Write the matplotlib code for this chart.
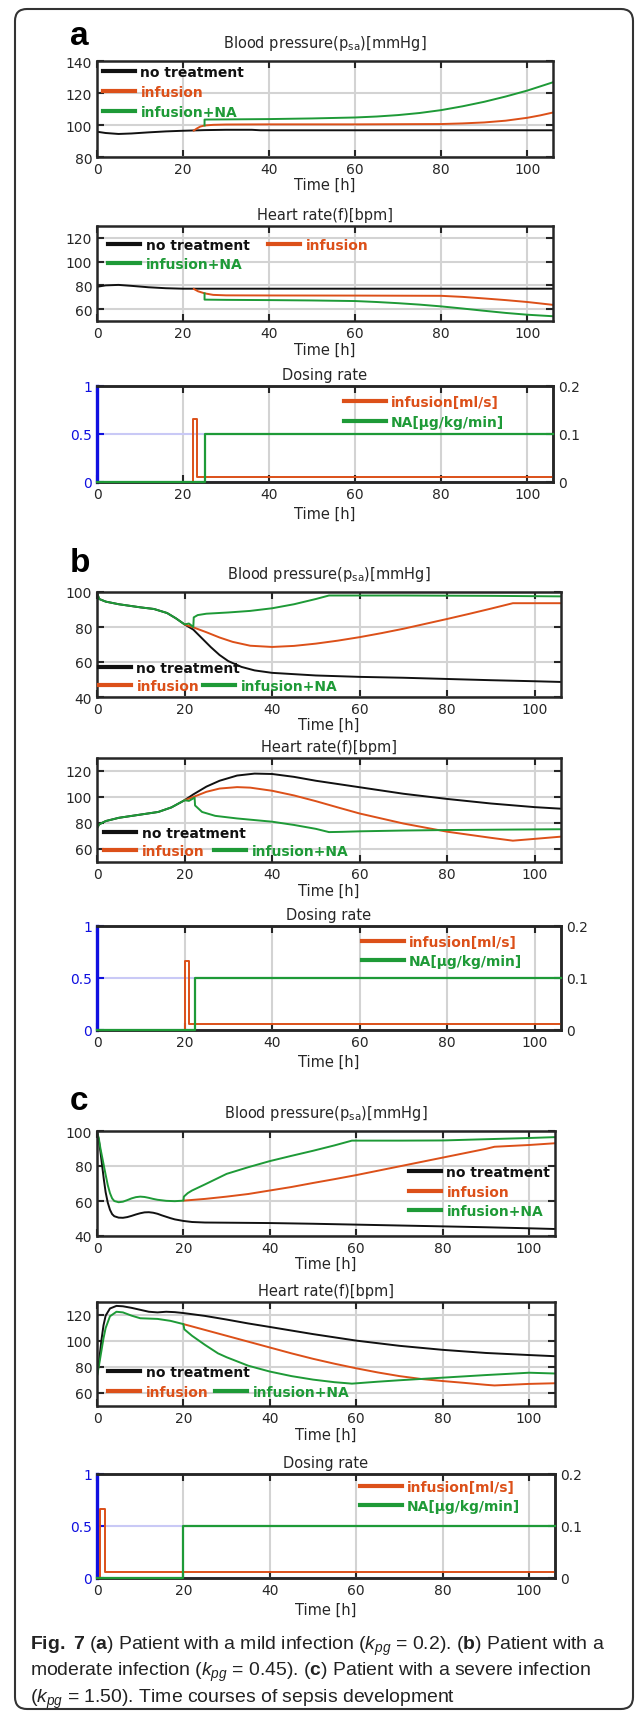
import matplotlib
matplotlib.use("Agg")
from matplotlib import pyplot as plt
from matplotlib import font_manager
from matplotlib.legend import Legend
from matplotlib.patches import FancyBboxPatch
from matplotlib.transforms import IdentityTransform

# ---------------- data ----------------
# panel a : blood pressure
a_bp_black_t = [0, 2, 5, 8, 12, 16, 20, 25, 30, 36, 38, 60, 106]
a_bp_black = [95.8, 95.0, 94.4, 94.7, 95.4, 96.0, 96.4, 96.8, 97.0, 97.0, 96.7, 96.7, 96.7]
a_bp_inf_t = [22.5, 23.2, 24, 25, 27, 30, 40, 60, 80, 85, 90, 95, 100, 103, 106]
a_bp_inf = [96.5, 97.8, 99.0, 99.7, 100.1, 100.3, 100.4, 100.4, 100.6, 101.0, 101.6, 102.7, 104.5, 106.0, 107.8]
a_bp_na_t = [25, 25, 30, 40, 50, 60, 65, 70, 75, 80, 85, 90, 95, 100, 106]
a_bp_na = [99.7, 103.4, 103.5, 103.7, 104.1, 104.7, 105.3, 106.2, 107.5, 109.3, 111.7, 114.5, 117.8, 121.5, 126.7]
# panel a : heart rate
a_hr_black_t = [0, 2, 5, 8, 12, 16, 20, 106]
a_hr_black = [78.8, 80.0, 80.4, 79.6, 78.4, 77.6, 77.2, 77.2]
a_hr_inf_t = [22.5, 23.5, 25, 27, 30, 40, 60, 80, 85, 90, 95, 100, 106]
a_hr_inf = [77.0, 75.0, 73.3, 72.0, 71.6, 71.5, 71.4, 71.2, 70.3, 69.0, 67.6, 66.0, 63.6]
a_hr_na_t = [25, 25, 30, 40, 50, 60, 65, 70, 75, 80, 85, 90, 95, 100, 106]
a_hr_na = [73.3, 68.0, 67.8, 67.6, 67.3, 66.8, 66.0, 65.0, 63.8, 62.3, 60.5, 58.6, 56.8, 55.3, 54.0]
# panel a : dosing
a_inf_t = [0, 22.2, 22.2, 23.3, 23.3, 106]
a_inf = [0, 0, 0.66, 0.66, 0.055, 0.055]
a_na_t = [0, 25, 25, 106]
a_na = [0, 0, 0.1, 0.1]

# panel b : blood pressure
b_bp_black_t = [0, 0.5, 2, 5, 10, 13, 16, 18, 20, 22, 24, 26, 28, 30, 33, 36, 40, 50, 60, 70, 80, 90, 100, 106]
b_bp_black = [99.5, 96.0, 94.5, 93.0, 91.2, 90.3, 88.0, 85.0, 81.5, 78.5, 73.5, 68.5, 64.0, 60.5, 57.2, 55.2,
              53.8, 52.3, 51.5, 51.0, 50.3, 49.6, 49.0, 48.6]
b_bp_inf_t = [20, 22, 25, 28, 31, 35, 40, 45, 50, 55, 60, 65, 70, 75, 80, 85, 90, 95, 106]
b_bp_inf = [81.5, 79.8, 77.0, 74.0, 71.5, 69.3, 68.6, 69.2, 70.5, 72.2, 74.2, 76.5, 79.0, 81.8, 84.6, 87.5,
            90.5, 93.6, 93.6]
b_bp_na_t = [0, 0.5, 2, 5, 10, 13, 16, 18, 20, 21, 22, 22.1, 23, 25, 30, 35, 40, 45, 50, 53, 70, 90, 106]
b_bp_na = [99.5, 96.0, 94.5, 93.0, 91.2, 90.3, 88.0, 85.0, 81.5, 82.0, 80.0, 85.5, 86.8, 87.6, 88.3, 89.2,
           90.7, 93.0, 96.0, 98.0, 98.0, 97.8, 97.5]
# panel b : heart rate
b_hr_black_t = [0, 0.5, 2, 5, 10, 14, 17, 20, 22, 25, 28, 32, 36, 40, 45, 50, 60, 70, 80, 90, 100, 106]
b_hr_black = [76, 79, 81.5, 84, 86.5, 88.5, 92, 97.5, 102, 108, 112.5, 116.5, 118, 117.7, 115.5, 112.5,
              107.5, 102.5, 98.5, 95, 92.2, 91]
b_hr_inf_t = [20, 22, 25, 28, 32, 35, 40, 45, 50, 55, 60, 70, 80, 90, 95, 100, 106]
b_hr_inf = [97.5, 100, 104, 106.5, 107.6, 107.2, 104.8, 101.2, 96.8, 92, 87.3, 79.6, 73.3, 68.6, 66.4, 67.8, 69.5]
b_hr_na_t = [0, 0.5, 2, 5, 10, 14, 17, 20, 21, 22.3, 22.4, 24, 27, 32, 40, 45, 50, 53, 56, 60, 70, 80, 106]
b_hr_na = [76, 79, 81.5, 84, 86.5, 88.5, 92, 97.5, 97, 99.5, 93.5, 88.5, 85.5, 83.5, 81, 78.5, 75.5, 73,
           73.2, 73.6, 74.2, 74.6, 75.2]
# panel b : dosing
b_inf_t = [0, 20.0, 20.0, 21.1, 21.1, 106]
b_inf = [0, 0, 0.66, 0.66, 0.055, 0.055]
b_na_t = [0, 22.4, 22.4, 106]
b_na = [0, 0, 0.1, 0.1]

# panel c : blood pressure
c_bp_black_t = [0, 0.4, 0.8, 1.2, 1.6, 2, 2.5, 3, 3.5, 4, 5, 6, 7, 8, 9, 10, 11, 12, 13, 14, 15, 16, 17, 18,
                20, 22, 25, 30, 40, 50, 60, 70, 80, 90, 100, 106]
c_bp_black = [99.5, 95, 88, 80, 72, 65, 59, 55, 52.5, 51.3, 50.5, 50.4, 50.8, 51.5, 52.3, 53, 53.5, 53.6, 53.3,
              52.7, 51.8, 51, 50.2, 49.5, 48.6, 48.0, 47.7, 47.6, 47.4, 47.0, 46.5, 46.0, 45.5, 45.0, 44.4, 44.0]
c_bp_inf_t = [20, 25, 30, 35, 40, 45, 50, 55, 60, 65, 70, 75, 80, 85, 90, 92, 100, 106]
c_bp_inf = [60.2, 61.2, 62.5, 64, 66, 68, 70.3, 72.5, 74.8, 77.3, 79.8, 82.3, 84.8, 87.3, 89.8, 91, 92, 93]
c_bp_na_t = [0, 0.4, 0.8, 1.2, 1.6, 2, 2.5, 3, 3.5, 4, 5, 6, 7, 8, 9, 10, 11, 12, 13, 14, 16, 18, 20, 20.1,
             21, 22, 25, 30, 35, 40, 45, 50, 55, 59, 70, 80, 90, 100, 106]
c_bp_na = [99.5, 96, 90, 85, 80, 75, 69, 64.5, 61.5, 60, 59.3, 59.6, 60.5, 61.5, 62.2, 62.5, 62.3, 61.8, 61.2,
           60.7, 60.1, 59.9, 60.2, 62.5, 64.5, 66, 69.5, 75.5, 79.3, 82.8, 85.8, 88.7, 91.8, 94.5, 94.5, 94.6,
           95.3, 96, 96.5]
# panel c : heart rate
c_hr_black_t = [0, 0.5, 1, 1.5, 2, 3, 4.5, 6, 8, 10, 12, 14, 16, 18, 20, 25, 30, 35, 40, 50, 60, 70, 80, 90,
                100, 106]
c_hr_black = [73, 85, 100, 112, 119.5, 125, 127, 126.7, 125.5, 124, 122.5, 122, 122.5, 122.2, 121.5, 119.3,
              116.5, 113.5, 110.8, 105.3, 100.3, 96.3, 93.2, 90.8, 89.2, 88.3]
c_hr_inf_t = [20, 25, 30, 35, 40, 45, 50, 55, 60, 65, 70, 75, 80, 85, 90, 92, 100, 106]
c_hr_inf = [113, 108.5, 104, 99.5, 95, 90.5, 86.3, 82.5, 79, 75.8, 73, 70.8, 69.2, 67.8, 66.3, 65.8, 67, 67.5]
c_hr_na_t = [0, 0.5, 1, 1.5, 2, 3, 4.5, 6, 8, 10, 14, 17, 20, 20.2, 22, 25, 28, 30, 35, 40, 45, 50, 55, 59,
             65, 70, 80, 90, 100, 106]
c_hr_na = [73, 82, 92, 102, 110, 119, 122.5, 122, 119.5, 117.5, 117, 115.5, 113, 109, 104, 97, 90.5, 87.5, 81,
           76.5, 73, 70.3, 68.3, 67.2, 68.7, 69.8, 71.8, 73.8, 75.6, 75.0]
# panel c : dosing
c_inf_t = [0, 0.8, 0.8, 1.9, 1.9, 106]
c_inf = [0, 0, 0.66, 0.66, 0.055, 0.055]
c_na_t = [0, 20, 20, 106]
c_na = [0, 0, 0.1, 0.1]

x_ticks = [0, 20, 40, 60, 80, 100]
bp_ticks_a = [80, 100, 120, 140]
bp_ticks_bc = [40, 60, 80, 100]
hr_ticks = [60, 80, 100, 120]
labels = ['no treatment', 'infusion', 'infusion+NA']
dose_labels = ['infusion[ml/s]', 'NA[\u03bcg/kg/min]']

# ---------------- style ----------------
BLACK = '#111111'
ORANGE = '#DC5019'
GREEN = '#1E9A37'
BLUE = '#1010E0'
AXC = '#262626'
GRID = '#d3d3d3'

names = {f.name for f in font_manager.fontManager.ttflist}
CAP_FONT = 'Liberation Sans Narrow' if 'Liberation Sans Narrow' in names else 'Liberation Sans'

plt.rcParams['font.family'] = ['DejaVu Sans']
plt.rcParams['mathtext.fontset'] = 'custom'
plt.rcParams['mathtext.rm'] = 'DejaVu Sans'
plt.rcParams['mathtext.bf'] = CAP_FONT + ':bold'
plt.rcParams['mathtext.it'] = CAP_FONT + ':italic'

W, H = 635, 1715
fig = plt.figure(figsize=(W / 100, H / 100), dpi=100, facecolor='white')


def px_axes(l, t, r, b):
    return fig.add_axes([l / W, 1 - b / H, (r - l) / W, (b - t) / H])


def style(ax, ylim, yticks, right=True):
    ax.set_xlim(0, 106)
    ax.set_ylim(*ylim)
    ax.set_xticks(x_ticks)
    ax.set_yticks(yticks)
    ax.tick_params(direction='in', top=True, right=right, length=5, width=1.5,
                   labelsize=10, pad=3.5, colors=AXC)
    ax.grid(True, color=GRID, linewidth=1.5)
    ax.set_axisbelow(True)
    for s in ax.spines.values():
        s.set_linewidth(1.8)
        s.set_color(AXC)


def xlabel(ax, top, bottom, off):
    ax.set_xlabel('Time [h]', fontsize=10.5, color=AXC)
    ax.xaxis.set_label_coords(0.5, -(off - 7) / (bottom - top))


def title(l, r, base, txt):
    fig.text((l + r) / 2 / W, 1 - base / H, txt, ha='center', va='baseline', fontsize=10.5, color=AXC)


def legend_row(ax, handles, x, y, colsp_px=4, hl=2.3):
    lg = Legend(ax, handles, [h.get_label() for h in handles], loc='center left',
                bbox_to_anchor=(x / W, 1 - y / H), bbox_transform=fig.transFigure,
                ncol=len(handles), frameon=False, borderpad=0, borderaxespad=0,
                handlelength=hl, handletextpad=0.4, columnspacing=colsp_px / 13.9,
                labelcolor='linecolor', prop={'weight': 'bold', 'size': 10})
    for ln in lg.get_lines():
        ln.set_linewidth(3)
    ax.add_artist(lg)


def curves(ax, series):
    out = []
    for (t, v), c, lab in zip(series, [BLACK, ORANGE, GREEN], labels):
        out.append(ax.plot(t, v, color=c, lw=1.4, label=lab)[0])
    return out


def dose(l, t, r, b, inf_t, inf, na_t, na, legx, legy):
    ax = px_axes(l, t, r, b)
    style(ax, (0, 1), [0, 0.5, 1], right=False)
    ax.set_yticklabels(['0', '0.5', '1'])
    ax.tick_params(axis='y', colors=BLUE)
    ax.yaxis.grid(True, color='#c9c9f6', linewidth=1.5)
    ax.spines['left'].set_color(BLUE)
    ax.spines['left'].set_linewidth(2.4)
    h1 = ax.plot(inf_t, inf, color=ORANGE, lw=1.4, label=dose_labels[0], zorder=3)[0]
    ax2 = ax.twinx()
    ax2.set_ylim(0, 0.2)
    ax2.set_yticks([0, 0.1, 0.2])
    ax2.set_yticklabels(['0', '0.1', '0.2'])
    ax2.tick_params(direction='in', length=5, width=1.5, labelsize=10, pad=3.5, colors=AXC)
    for s in ax2.spines.values():
        s.set_linewidth(1.8)
        s.set_color(AXC)
    ax2.spines['left'].set_visible(False)
    h2 = ax2.plot(na_t, na, color=GREEN, lw=1.6, label=dose_labels[1], zorder=3, clip_on=False)[0]
    xlabel(ax, t, b, 31)
    title(l, r, t - 7, 'Dosing rate')
    legend_row(ax2, [h1], legx, legy[0], hl=3.0)
    legend_row(ax2, [h2], legx, legy[1], hl=3.0)


BP_TITLE = 'Blood pressure(p$_{\\mathrm{sa}}$)[mmHg]'
HR_TITLE = 'Heart rate(f)[bpm]'

# ---------------- panel a ----------------
L = 97
R = 553
ax = px_axes(L, 62, R, 158)
style(ax, (80, 140), bp_ticks_a)
hs = curves(ax, [(a_bp_black_t, a_bp_black), (a_bp_inf_t, a_bp_inf), (a_bp_na_t, a_bp_na)])
xlabel(ax, 62, 158, 27)
title(L, R, 48, BP_TITLE)
for h, yy in zip(hs, [73, 93, 113]):
    legend_row(ax, [h], 103, yy)

ax = px_axes(L, 227, R, 322)
style(ax, (50, 130), hr_ticks)
hs = curves(ax, [(a_hr_black_t, a_hr_black), (a_hr_inf_t, a_hr_inf), (a_hr_na_t, a_hr_na)])
xlabel(ax, 227, 322, 28)
title(L, R, 220, HR_TITLE)
legend_row(ax, [hs[0], hs[1]], 108, 246, colsp_px=19)
legend_row(ax, [hs[2]], 108, 265)

dose(L, 387, R, 483, a_inf_t, a_inf, a_na_t, a_na, 344, (403, 423))

# ---------------- panel b ----------------
R = 561
ax = px_axes(L, 593, R, 698)
style(ax, (40, 100), bp_ticks_bc)
hs = curves(ax, [(b_bp_black_t, b_bp_black), (b_bp_inf_t, b_bp_inf), (b_bp_na_t, b_bp_na)])
xlabel(ax, 593, 698, 27)
title(L, R, 579, BP_TITLE)
legend_row(ax, [hs[0]], 99, 669)
legend_row(ax, [hs[1], hs[2]], 99, 687, colsp_px=4)

ax = px_axes(L, 759, R, 863)
style(ax, (50, 130), hr_ticks)
hs = curves(ax, [(b_hr_black_t, b_hr_black), (b_hr_inf_t, b_hr_inf), (b_hr_na_t, b_hr_na)])
xlabel(ax, 759, 863, 28)
title(L, R, 752, HR_TITLE)
legend_row(ax, [hs[0]], 104, 834)
legend_row(ax, [hs[1], hs[2]], 104, 852, colsp_px=10)

dose(L, 927, R, 1031, b_inf_t, b_inf, b_na_t, b_na, 362, (943, 962))

# ---------------- panel c ----------------
R = 555
ax = px_axes(L, 1132, R, 1237)
style(ax, (40, 100), bp_ticks_bc)
hs = curves(ax, [(c_bp_black_t, c_bp_black), (c_bp_inf_t, c_bp_inf), (c_bp_na_t, c_bp_na)])
xlabel(ax, 1132, 1237, 27)
title(L, R, 1118, BP_TITLE)
for h, yy in zip(hs, [1173, 1193, 1212]):
    legend_row(ax, [h], 409, yy)

ax = px_axes(L, 1303, R, 1407)
style(ax, (50, 130), hr_ticks)
hs = curves(ax, [(c_hr_black_t, c_hr_black), (c_hr_inf_t, c_hr_inf), (c_hr_na_t, c_hr_na)])
xlabel(ax, 1303, 1407, 28)
title(L, R, 1296, HR_TITLE)
legend_row(ax, [hs[0]], 108, 1373)
legend_row(ax, [hs[1], hs[2]], 108, 1393, colsp_px=7)

dose(L, 1475, R, 1579, c_inf_t, c_inf, c_na_t, c_na, 360, (1488, 1507))

# ---------------- panel letters, caption, frame ----------------
for letter, base in [('a', 45), ('b', 572), ('c', 1110)]:
    fig.text(70 / W, 1 - base / H, letter, fontsize=24, fontweight='bold',
             family=['Liberation Sans', 'DejaVu Sans'], va='baseline', ha='left', color='black')

cap = [r'$\bf{Fig.\ 7}$ ($\bf{a}$) Patient with a mild infection ($k_{pg}$ = 0.2). ($\bf{b}$) Patient with a',
       r'moderate infection ($k_{pg}$ = 0.45). ($\bf{c}$) Patient with a severe infection',
       r'($k_{pg}$ = 1.50). Time courses of sepsis development']
cap_txt = []
for line, base in zip(cap, [1650, 1676.5, 1703]):
    cap_txt.append(fig.text(30 / W, 1 - base / H, line, fontsize=12, family=[CAP_FONT, 'DejaVu Sans'],
                            va='baseline', ha='left', color='#222222'))

# fit the first caption line to the width it has in the original (about 575 px)
renderer = fig.canvas.get_renderer()
w0 = cap_txt[0].get_window_extent(renderer).width
size = 12 * 575 / w0
for t in cap_txt:
    t.set_fontsize(size)

frame = FancyBboxPatch((15, H - 1710), 618, 1700, boxstyle='round,pad=0,rounding_size=12',
                       fill=False, lw=1.5, ec='#333333', transform=IdentityTransform())
fig.add_artist(frame)

fig.savefig('out.png', dpi=100, facecolor='white')
